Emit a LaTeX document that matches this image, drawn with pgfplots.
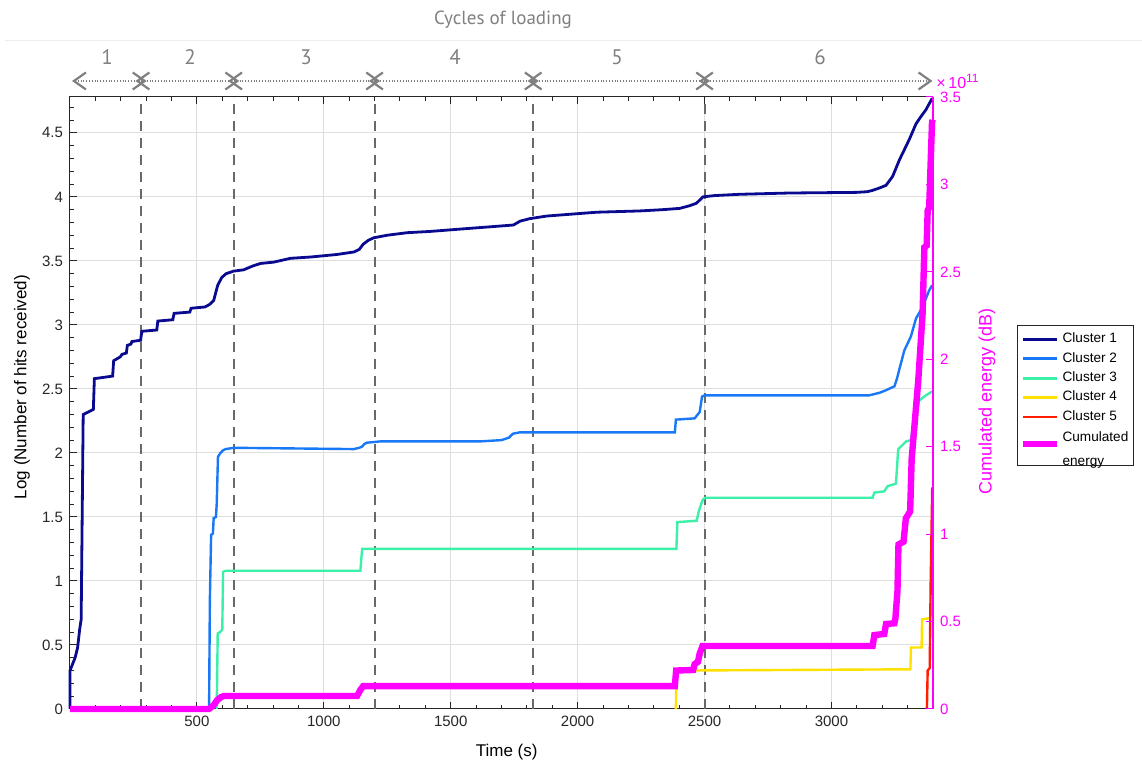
\documentclass[border=0pt]{standalone}
\usepackage{pgfplots}
\pgfplotsset{compat=1.18}
\usepackage{fontspec}
\setmainfont{Liberation Sans}
\newfontfamily\cyclefont{PT Sans}
\usetikzlibrary{arrows.meta}
\definecolor{c1}{RGB}{10,10,145}
\definecolor{c2}{RGB}{25,120,245}
\definecolor{c3}{RGB}{60,240,170}
\definecolor{c4}{RGB}{255,225,0}
\definecolor{c5}{RGB}{255,30,0}
\definecolor{mag}{RGB}{255,0,255}
\definecolor{axgray}{RGB}{38,38,38}
\definecolor{gridgray}{RGB}{222,222,222}
\definecolor{dashgray}{RGB}{105,105,105}
\definecolor{arrgray}{RGB}{128,128,128}
\pgfplotsset{
  legend image code/.code={\draw[#1] (0pt,0pt) -- (17pt,0pt);},
  /pgf/number format/set thousands separator={},
}
\begin{document}
\begin{tikzpicture}[x=0.5pt,y=0.5pt]
\useasboundingbox (0,0) rectangle (1142,764);
\draw[black!7, line width=0.5pt] (5,723) -- (1142,723);
\node[font=\cyclefont\fontsize{9.5}{11}\selectfont, text=arrgray] at (503,744) {Cycles of loading};

\begin{axis}[
  at={(35pt,27.5pt)}, anchor=south west, scale only axis,
  width=431.5pt, height=306pt,
  xmin=0, xmax=3400, ymin=0, ymax=4.78,
  clip=false,
  axis line style={axgray, line width=0.5pt},
  tick style={axgray, line width=0.5pt},
  tick align=inside, major tick length=3.5pt, minor tick length=2pt,
  xtick pos=both, ytick pos=left,
  xtick={500,1000,...,3000},
  minor xtick={100,200,...,3400},
  ytick={0,0.5,...,4.5},
  minor ytick={0.1,0.2,0.3,0.4,0.6,0.7,0.8,0.9,1.1,1.2,1.3,1.4,1.6,1.7,1.8,1.9,2.1,2.2,2.3,2.4,2.6,2.7,2.8,2.9,3.1,3.2,3.3,3.4,3.6,3.7,3.8,3.9,4.1,4.2,4.3,4.4,4.6,4.7},
  grid=major, major grid style={gridgray, line width=0.5pt},
  /pgf/number format/assume math mode=true,
  tick label style={font=\fontsize{7.5}{9}\selectfont, text=axgray},
  xlabel={Time (s)}, ylabel={Log (Number of hits received)},
  label style={font=\fontsize{8.5}{10}\selectfont, text=black},
  xlabel style={at={(axis description cs:0.506,0)}, anchor=center, yshift=-21.5pt},
  ylabel style={at={(axis description cs:-0.0556,0.526)}, anchor=center},
]
% cycle boundaries
\addplot[dashgray, line width=1pt, dash pattern=on 5pt off 3.5pt, forget plot] coordinates {(280,0)(280,4.78)};
\addplot[dashgray, line width=1pt, dash pattern=on 5pt off 3.5pt, forget plot] coordinates {(645,0)(645,4.78)};
\addplot[dashgray, line width=1pt, dash pattern=on 5pt off 3.5pt, forget plot] coordinates {(1200,0)(1200,4.78)};
\addplot[dashgray, line width=1pt, dash pattern=on 5pt off 3.5pt, forget plot] coordinates {(1825,0)(1825,4.78)};
\addplot[dashgray, line width=1pt, dash pattern=on 5pt off 3.5pt, forget plot] coordinates {(2500,0)(2500,4.78)};
% Cluster 1
\addplot[c1, line width=1.4pt, forget plot] coordinates {
(0,0)(0,0.30)(20,0.40)(30,0.48)(38,0.62)(44,0.70)(48,1.5)(52,2.30)(92,2.34)(96,2.58)(168,2.60)(172,2.72)(198,2.75)(205,2.77)(222,2.78)(226,2.84)(240,2.85)(244,2.87)(278,2.88)(283,2.95)(342,2.96)(346,3.03)(405,3.04)(410,3.09)(472,3.10)(477,3.13)(532,3.14)(550,3.16)(566,3.19)(574,3.25)(582,3.31)(598,3.37)(615,3.40)(645,3.42)(684,3.43)(720,3.46)(751,3.48)(802,3.49)(869,3.52)(947,3.53)(1052,3.55)(1120,3.57)(1140,3.59)(1155,3.63)(1175,3.66)(1196,3.68)(1249,3.70)(1328,3.72)(1419,3.73)(1549,3.75)(1681,3.77)(1747,3.78)(1773,3.81)(1812,3.83)(1878,3.85)(2075,3.88)(2245,3.89)(2335,3.90)(2402,3.91)(2440,3.93)(2468,3.95)(2494,4.00)(2540,4.01)(2638,4.02)(2835,4.03)(3097,4.035)(3140,4.04)(3161,4.05)(3190,4.07)(3215,4.09)(3241,4.16)(3268,4.29)(3290,4.38)(3307,4.45)(3333,4.57)(3350,4.62)(3372,4.68)(3397,4.77)};
% Cluster 2
\addplot[c2, line width=1.2pt, forget plot] coordinates {
(544,0)(548,0)(551,0.85)(556,1.36)(563,1.37)(566,1.49)(575,1.50)(578,1.60)(583,1.97)(593,2.00)(603,2.02)(613,2.03)(646,2.04)(1118,2.03)(1140,2.04)(1151,2.05)(1160,2.07)(1170,2.08)(1223,2.09)(1616,2.09)(1700,2.10)(1730,2.12)(1745,2.15)(1770,2.16)(2383,2.16)(2387,2.26)(2461,2.27)(2481,2.32)(2490,2.44)(2501,2.45)(3149,2.45)(3190,2.47)(3215,2.49)(3248,2.52)(3258,2.58)(3267,2.65)(3287,2.80)(3313,2.91)(3333,3.05)(3359,3.14)(3385,3.27)(3397,3.31)};
% Cluster 3
\addplot[c3, line width=1.2pt, forget plot] coordinates {
(578,0)(582,0.59)(591,0.60)(600,0.62)(603,1.07)(613,1.08)(1144,1.08)(1151,1.25)(2389,1.25)(2393,1.46)(2469,1.47)(2478,1.55)(2492,1.63)(2501,1.65)(3162,1.65)(3169,1.69)(3208,1.70)(3221,1.74)(3254,1.76)(3263,2.03)(3274,2.05)(3294,2.09)(3313,2.10)(3326,2.26)(3346,2.41)(3372,2.45)(3397,2.48)};
% Cluster 4
\addplot[c4, line width=1.2pt, forget plot] coordinates {
(2387,0)(2389,0.30)(3311,0.31)(3313,0.48)(3355,0.48)(3357,0.70)(3388,0.71)};
% Cluster 5
\addplot[c5, line width=1.2pt, forget plot] coordinates {
(3376,0)(3379,0.30)(3387,0.32)(3391,1.0)(3397,1.73)};
% cycles of loading arrows
\begin{scope}[arrgray, line width=1pt, dash pattern=on 0.5pt off 0.9pt,
  >={Straight Barb[length=6pt,width=8.5pt,line width=1.1pt]}]
\draw[<->] (axis cs:8,4.905) -- (axis cs:302,4.905);
\draw[<->] (axis cs:258,4.905) -- (axis cs:667,4.905);
\draw[<->] (axis cs:623,4.905) -- (axis cs:1222,4.905);
\draw[<->] (axis cs:1178,4.905) -- (axis cs:1847,4.905);
\draw[<->] (axis cs:1803,4.905) -- (axis cs:2522,4.905);
\draw[<->] (axis cs:2478,4.905) -- (axis cs:3398,4.905);
\end{scope}
\begin{scope}[every node/.style={font=\cyclefont\fontsize{10.5}{12}\selectfont, text=arrgray}]
\node at (axis cs:146,5.09) {1};
\node at (axis cs:473,5.09) {2};
\node at (axis cs:930,5.09) {3};
\node at (axis cs:1517,5.09) {4};
\node at (axis cs:2155,5.09) {5};
\node at (axis cs:2955,5.09) {6};
\end{scope}
\end{axis}

\begin{axis}[
  at={(35pt,27.5pt)}, anchor=south west, scale only axis,
  width=431.5pt, height=306pt,
  xmin=0, xmax=3400, ymin=0, ymax=3.5,
  clip=false,
  axis x line=none, axis y line*=right,
  y axis line style={mag, line width=0.6pt},
  ytick style={mag, line width=0.5pt},
  tick align=inside, major tick length=3.5pt,
  ytick={0,0.5,...,3.5},
  /pgf/number format/assume math mode=true,
  yticklabel style={font=\fontsize{7.5}{9}\selectfont, text=mag},
  ylabel={Cumulated energy (dB)},
  ylabel style={font=\fontsize{9}{10}\selectfont, text=mag, at={(axis description cs:1.0626,0.503)}, anchor=center},
  legend style={at={(1.097,0.627)}, anchor=north west, draw=axgray, line width=0.5pt,
    font=\fontsize{6.8}{8}\selectfont, inner xsep=1.5pt, inner ysep=2.5pt,
    row sep=1.3pt, nodes={inner sep=1pt}},
  legend cell align=left,
]
\addlegendimage{c1, line width=1.4pt}\addlegendentry{Cluster 1}
\addlegendimage{c2, line width=1.4pt}\addlegendentry{Cluster 2}
\addlegendimage{c3, line width=1.4pt}\addlegendentry{Cluster 3}
\addlegendimage{c4, line width=1.4pt}\addlegendentry{Cluster 4}
\addlegendimage{c5, line width=1.4pt}\addlegendentry{Cluster 5}
\addplot[mag, line width=3.2pt] coordinates {
(0,0)(547,0)(565,0.02)(580,0.051)(595,0.068)(606,0.074)(1131,0.074)(1144,0.109)(1155,0.131)(2383,0.131)(2388,0.22)(2455,0.223)(2461,0.257)(2474,0.27)(2481,0.318)(2492,0.36)(3162,0.36)(3169,0.423)(3208,0.429)(3215,0.486)(3248,0.49)(3252,0.52)(3260,0.675)(3264,0.94)(3284,0.957)(3293,1.09)(3310,1.13)(3316,1.43)(3329,1.655)(3342,1.88)(3359,2.26)(3366,2.64)(3375,2.65)(3379,2.85)(3385,2.87)(3396,3.35)(3398,3.37)};
\addlegendentry{\begin{tabular}{@{}l@{}}Cumulated\\[4pt]energy\rule[-4pt]{0pt}{4pt}\end{tabular}}
\node[anchor=south west, text=mag, font=\fontsize{8}{9}\selectfont, inner sep=0pt] at (rel axis cs:1,1) [xshift=1.5pt, yshift=4pt] {×\,10\textsuperscript{11}};
\end{axis}
\end{tikzpicture}
\end{document}
